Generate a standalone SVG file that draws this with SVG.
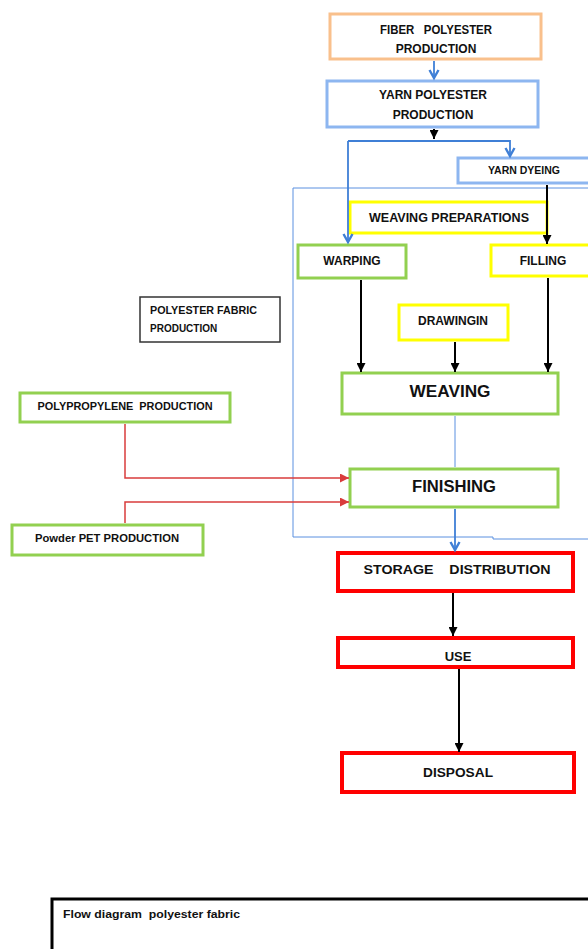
<svg xmlns="http://www.w3.org/2000/svg" width="588" height="949" viewBox="0 0 588 949">
<style>
text{font-family:"Liberation Sans",Arial,sans-serif;font-weight:bold;fill:#111;text-anchor:middle;}
.t{font-size:12px;}
.big{font-size:16px;}
.sm{font-size:10.5px;}
rect{fill:#fff;}
.or{stroke:#F9C08C;stroke-width:3;}
.lb{stroke:#8DB6F0;stroke-width:3;}
.gr{stroke:#92D050;stroke-width:3;}
.ye{stroke:#FFFF00;stroke-width:3;}
.rd{stroke:#FF0000;stroke-width:4;}
.bl{fill:none;stroke:#3F7FD6;stroke-width:1.8;}
.blt{fill:none;stroke:#5A90E0;stroke-width:1;}
.k{fill:none;stroke:#000;stroke-width:2;}
.r{fill:none;stroke:#D93C3C;stroke-width:1.5;}
</style>
<defs>
<marker id="ab" viewBox="0 0 10 10" refX="9" refY="5" markerWidth="10" markerHeight="10" orient="auto" markerUnits="userSpaceOnUse" overflow="visible"><path d="M1,0.5 L9,5 L1,9.5" fill="none" stroke="#3F7FD6" stroke-width="2.4"/></marker>
<marker id="ak" viewBox="0 0 10 10" refX="10" refY="5" markerWidth="9" markerHeight="9" orient="auto" markerUnits="userSpaceOnUse"><path d="M0,0 L10,5 L0,10 Z" fill="#000"/></marker>
<marker id="ar" viewBox="0 0 10 10" refX="10" refY="5" markerWidth="9" markerHeight="9" orient="auto" markerUnits="userSpaceOnUse"><path d="M0,0 L10,5 L0,10 Z" fill="#D93C3C"/></marker>
</defs>
<path class="blt" d="M588,539 L493,539 L493,537 L293,537 L293,188 L588,188"/>
<g id="fiber"><rect class="or" x="330" y="14" width="211" height="45"/><text class="t" x="436" y="34" xml:space="preserve" textLength="112" lengthAdjust="spacingAndGlyphs">FIBER   POLYESTER</text><text class="t" x="436" y="53">PRODUCTION</text></g>
<g id="yarn"><rect class="lb" x="327" y="81" width="211" height="46"/><text class="t" x="433" y="99">YARN POLYESTER</text><text class="t" x="433" y="119">PRODUCTION</text></g>
<g id="dyeing"><rect class="lb" x="458" y="158" width="140" height="25"/><text class="sm" x="524" y="174">YARN DYEING</text></g>
<g id="prep"><rect class="ye" x="350" y="202" width="197" height="31"/><text class="t" x="449" y="222" textLength="160" lengthAdjust="spacingAndGlyphs">WEAVING PREPARATIONS</text></g>
<g id="warping"><rect class="gr" x="298" y="245" width="108" height="33"/><text class="t" x="352" y="265">WARPING</text></g>
<g id="filling"><rect class="ye" x="491" y="245" width="110" height="31"/><text class="t" x="543" y="265">FILLING</text></g>
<g id="drawingin"><rect class="ye" x="399" y="305" width="109" height="35"/><text class="t" x="453" y="325">DRAWINGIN</text></g>
<g id="weaving"><rect class="gr" x="342" y="373" width="216" height="41"/><text class="big" x="450" y="397" textLength="81" lengthAdjust="spacingAndGlyphs">WEAVING</text></g>
<g id="fabric"><rect x="140" y="297" width="140" height="45" fill="#fff" stroke="#333" stroke-width="1.5"/><text x="150" y="314" style="text-anchor:start;font-size:10px" textLength="107" lengthAdjust="spacingAndGlyphs">POLYESTER FABRIC</text><text x="150" y="332" style="text-anchor:start;font-size:10px">PRODUCTION</text></g>
<g id="polypropylene"><rect class="gr" x="20" y="393" width="210" height="29"/><text class="sm" x="125" y="410" xml:space="preserve" textLength="175" lengthAdjust="spacingAndGlyphs">POLYPROPYLENE  PRODUCTION</text></g>
<g id="finishing"><rect class="gr" x="350" y="469" width="208" height="38"/><text class="big" x="454" y="492" textLength="84" lengthAdjust="spacingAndGlyphs">FINISHING</text></g>
<g id="pet"><rect class="gr" x="12" y="525" width="191" height="30"/><text class="sm" x="107" y="542" textLength="144" lengthAdjust="spacingAndGlyphs">Powder PET PRODUCTION</text></g>
<g id="storage"><rect class="rd" x="338" y="553" width="235" height="38"/><text class="t" x="457" y="574" xml:space="preserve" textLength="187" lengthAdjust="spacingAndGlyphs">STORAGE    DISTRIBUTION</text></g>
<g id="use"><rect class="rd" x="338" y="638" width="235" height="29"/><text class="t" x="458" y="661" style="font-size:13px">USE</text></g>
<g id="disposal"><rect class="rd" x="342" y="753" width="232" height="39"/><text class="t" x="458" y="777" textLength="70" lengthAdjust="spacingAndGlyphs">DISPOSAL</text></g>
<g id="caption"><rect x="52" y="899" width="545" height="60" fill="#fff" stroke="#000" stroke-width="3"/><text x="63" y="918" style="text-anchor:start;font-size:10.5px" textLength="177" lengthAdjust="spacingAndGlyphs" xml:space="preserve">Flow diagram  polyester fabric</text></g>
<g id="connectors">
<path class="bl" d="M434,61 L434,78" marker-end="url(#ab)"/>
<path class="k" d="M434,129 L434,139" marker-end="url(#ak)"/>
<path class="bl" d="M348,141 L510,141 L510,156" marker-end="url(#ab)"/>
<path class="bl" d="M348,141 L348,242" marker-end="url(#ab)"/>
<path class="k" d="M547,185 L547,244" marker-end="url(#ak)"/>
<path class="k" d="M361,280 L361,372" marker-end="url(#ak)"/>
<path class="k" d="M548,278 L548,372" marker-end="url(#ak)"/>
<path class="k" d="M455,342 L455,372" marker-end="url(#ak)"/>
<path class="blt" d="M455,416 L455,467"/>
<path class="r" d="M125,424 L125,478 L349,478" marker-end="url(#ar)"/>
<path class="r" d="M125,523 L125,502 L349,502" marker-end="url(#ar)"/>
<path class="bl" d="M455,509 L455,550" marker-end="url(#ab)"/>
<path class="k" d="M453,593 L453,636" marker-end="url(#ak)"/>
<path class="k" d="M459,669 L459,752" marker-end="url(#ak)"/>
</g>
</svg>
